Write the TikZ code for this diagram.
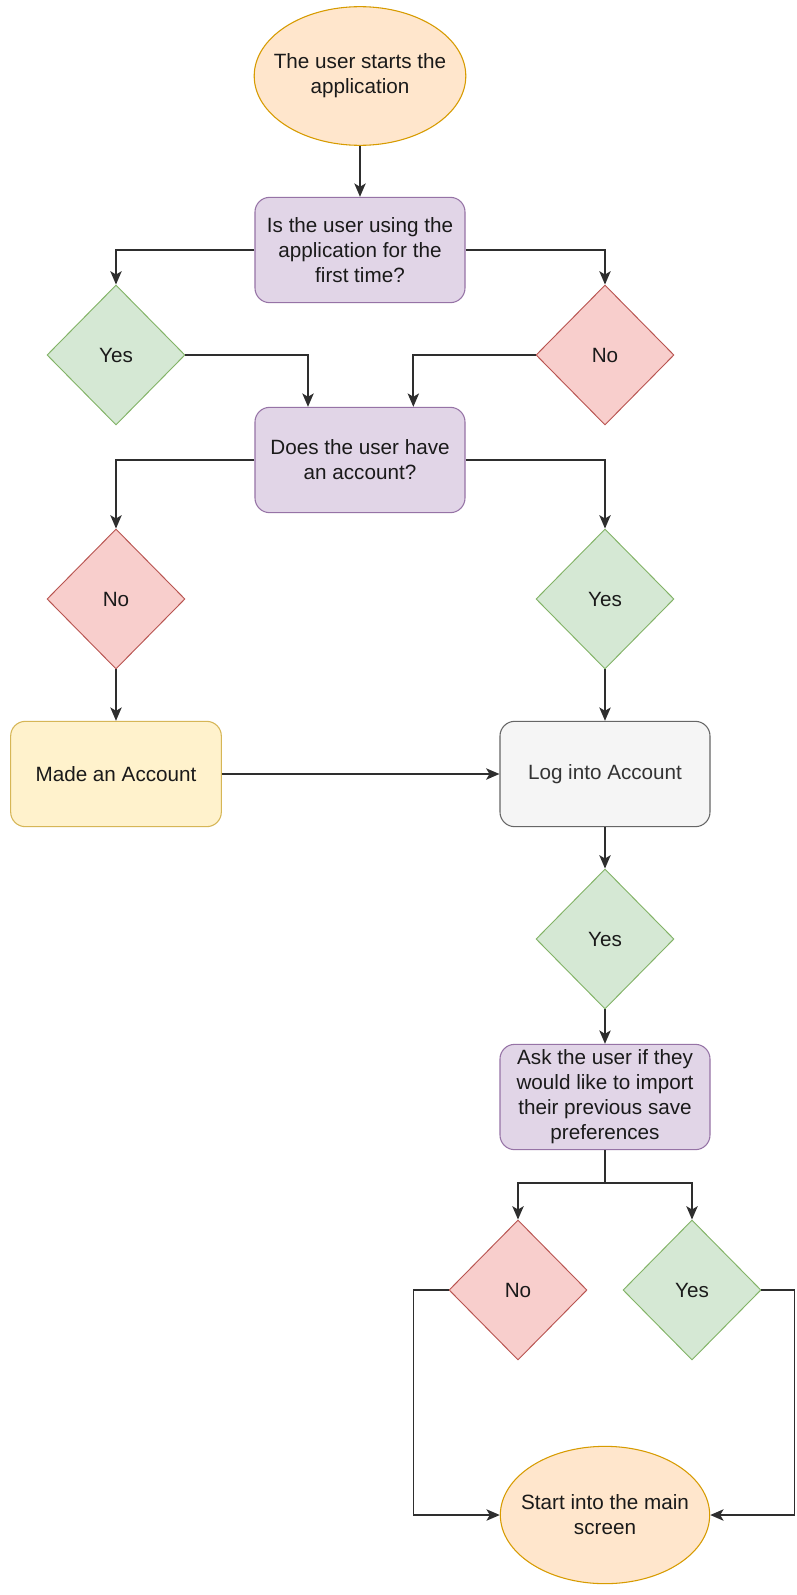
\documentclass[tikz,border=0pt]{standalone}
\usepackage{fontspec}
\setmainfont{Liberation Sans}
\usetikzlibrary{shapes.geometric,arrows.meta}

\definecolor{startfill}{HTML}{FFE6CC}
\definecolor{startline}{HTML}{D79B00}
\definecolor{askfill}{HTML}{E1D5E7}
\definecolor{askline}{HTML}{9673A6}
\definecolor{yesfill}{HTML}{D5E8D4}
\definecolor{yesline}{HTML}{82B366}
\definecolor{nofill}{HTML}{F8CECC}
\definecolor{noline}{HTML}{B85450}
\definecolor{makefill}{HTML}{FFF2CC}
\definecolor{makeline}{HTML}{D6B656}
\definecolor{logfill}{HTML}{F5F5F5}
\definecolor{logline}{HTML}{666666}
\definecolor{ink}{HTML}{1A1A1A}

\tikzset{
  every node/.style={font=\fontsize{15.5}{18.8}\selectfont, text=ink, align=center},
  terminal/.style={ellipse, draw=startline, fill=startfill, line width=0.8pt,
    minimum width=157pt, minimum height=104pt, inner xsep=-8.5pt, inner ysep=0pt},
  question/.style={rectangle, rounded corners=11pt, draw=askline, fill=askfill,
    line width=0.8pt, minimum width=157.5pt, minimum height=79pt, inner sep=0pt},
  yesbox/.style={diamond, draw=yesline, fill=yesfill, line width=0.7pt,
    minimum width=103.5pt, minimum height=105pt, inner sep=0pt},
  nobox/.style={diamond, draw=noline, fill=nofill, line width=0.7pt,
    minimum width=103.5pt, minimum height=105pt, inner sep=0pt},
  flow/.style={draw=black!82, line width=1.3pt, -{Stealth[length=10pt,width=8.5pt,inset=2.5pt]}},
  plain/.style={draw=black!82, line width=1.3pt}
}

\begin{document}
\begin{tikzpicture}[x=0.75pt, y=-0.75pt]
\useasboundingbox[fill=white] (0,0) rectangle (796,1595);

% first part
\node[terminal] (start) at (360,76) {The user starts the\\application};
\node[question] (firsttime) at (360,250) {Is the user using the\\application for the\\first time?};
\node[yesbox] (yes1) at (116,355) {Yes};
\node[nobox] (no1) at (605,355) {No};
\node[question] (account) at (360,460) {Does the user have\\an account?};
\node[nobox] (no2) at (116,599) {No};
\node[yesbox] (yes2) at (605,599) {Yes};
\node[question, draw=makeline, fill=makefill, minimum width=158pt] (made) at (116,774) {Made an Account};
\node[question, draw=logline, fill=logfill, text=black!80] (login) at (605,774) {Log into Account};

% second part
\node[yesbox] (yes3) at (605,939) {Yes};
\node[question] (import) at (605,1097) {Ask the user if they\\would like to import\\their previous save\\preferences};
\node[nobox] (no3) at (518,1290) {No};
\node[yesbox] (yes4) at (692,1290) {Yes};
\node[terminal, minimum height=103pt] (mainscr) at (605,1515) {Start into the main\\screen};
\coordinate (split) at (605,1183);

\draw[flow] (start) -- (firsttime);
\draw[flow] (firsttime.west) -| (yes1.north);
\draw[flow] (firsttime.east) -| (no1.north);
\draw[flow] (yes1.east) -| ([xshift=-39pt]account.north);
\draw[flow] (no1.west) -| ([xshift=40pt]account.north);
\draw[flow] (account.west) -| (no2.north);
\draw[flow] (account.east) -| (yes2.north);
\draw[flow] (no2) -- (made);
\draw[flow] (yes2) -- (login);
\draw[flow] (made) -- (login);
\draw[flow] (login) -- (yes3);
\draw[flow] (yes3) -- (import);
\draw[plain] (import.south) -- (split);
\draw[flow] (split) -| (no3.north);
\draw[flow] (split) -| (yes4.north);
\draw[flow] (no3.west) -- ++(-35,0) |- (mainscr.west);
\draw[flow] (yes4.east) -- ++(33,0) |- (mainscr.east);
\end{tikzpicture}
\end{document}
